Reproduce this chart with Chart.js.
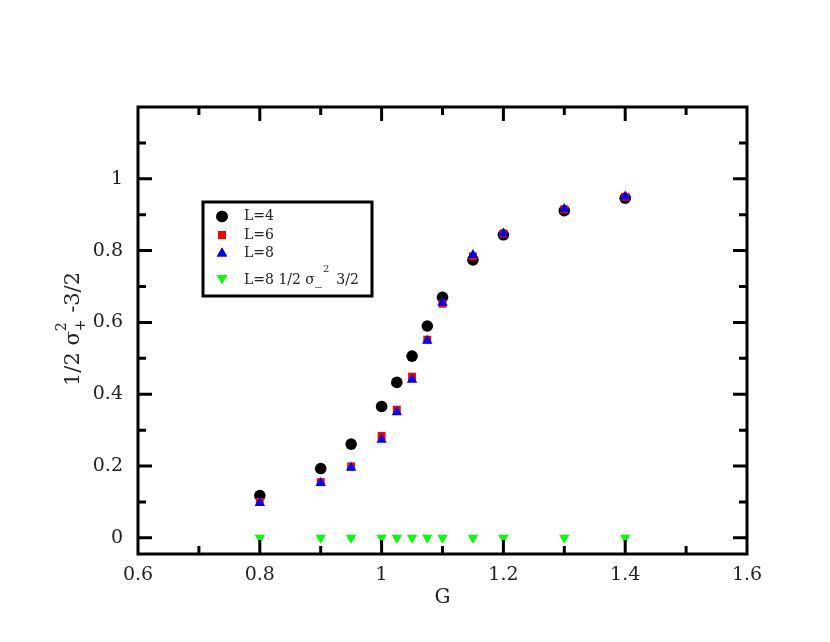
<!DOCTYPE html>
<html>
<head>
<meta charset="utf-8">
<script src="https://cdn.jsdelivr.net/npm/chart.js@4/dist/chart.umd.min.js"></script>
<style>
html,body{margin:0;padding:0;background:#fff;}
#c{display:block;}
</style>
</head>
<body>
<canvas id="c" width="830" height="642"></canvas>
<script>
// ---- data ----
const gValues = [0.8, 0.9, 0.95, 1.0, 1.025, 1.05, 1.075, 1.1, 1.15, 1.2, 1.3, 1.4];
const seriesL4 = [0.118, 0.193, 0.261, 0.366, 0.433, 0.506, 0.590, 0.670, 0.774, 0.844, 0.911, 0.946];
const seriesL6 = [0.100, 0.155, 0.199, 0.284, 0.357, 0.449, 0.552, 0.652, 0.784, 0.847, 0.915, 0.950];
const seriesL8 = [0.097, 0.153, 0.195, 0.273, 0.350, 0.440, 0.549, 0.655, 0.788, 0.848, 0.916, 0.951];
const seriesL8b = [0, 0, 0, 0, 0, 0, 0, 0, 0, 0, 0, 0];
const xTicks = [0.6, 0.8, 1.0, 1.2, 1.4, 1.6];
const xTickLabels = ['0.6', '0.8', '1', '1.2', '1.4', '1.6'];
const xMinor = [0.7, 0.9, 1.1, 1.3, 1.5];
const yTicks = [0, 0.2, 0.4, 0.6, 0.8, 1.0];
const yTickLabels = ['0', '0.2', '0.4', '0.6', '0.8', '1'];
const yMinor = [0.1, 0.3, 0.5, 0.7, 0.9, 1.1];
const legendLabels = ['L=4', 'L=6', 'L=8'];
const xTitle = 'G';

const FONT = '"DejaVu Serif", "Liberation Serif", serif';
const TXT = '#222';

function pts(ys) { return gValues.map((g, i) => ({x: g, y: ys[i]})); }

const datasets = [
  {label: 'L=4', data: pts(seriesL4), pointStyle: 'circle', pointRadius: 5.8, backgroundColor: '#000', borderColor: '#000', borderWidth: 0, order: 3},
  {label: 'L=6', data: pts(seriesL6), pointStyle: 'rect', pointRadius: 5.6, backgroundColor: '#ff0000', borderColor: '#ff0000', borderWidth: 0, order: 2},
  {label: 'L=8', data: pts(seriesL8), pointStyle: 'triangle', pointRadius: 6, backgroundColor: '#0000ff', borderColor: '#0000ff', borderWidth: 0, order: 1},
  {label: 'L=8 1/2 σ_-^2 -3/2', data: pts(seriesL8b), pointStyle: 'triangle', rotation: 180, pointRadius: 6, backgroundColor: '#00ff00', borderColor: '#00ff00', borderWidth: 0, order: 0}
];

function drawMarker(ctx, ds, x, y) {
  Chart.helpers.drawPoint(ctx, {pointStyle: ds.pointStyle, radius: ds.pointRadius, rotation: ds.rotation || 0, borderWidth: 0}, x, y);
  ctx.fill();
}

const framePlugin = {
  id: 'frame',
  afterDraw(chart) {
    const ctx = chart.ctx;
    const a = chart.chartArea;
    const xs = chart.scales.x, ys = chart.scales.y;
    ctx.save();
    ctx.strokeStyle = '#000';
    ctx.lineWidth = 3;
    ctx.lineCap = 'butt';
    ctx.strokeRect(a.left, a.top, a.right - a.left, a.bottom - a.top);
    const MAJ = 14, MIN = 8;
    ctx.beginPath();
    const xt = (v, len) => {
      const p = xs.getPixelForValue(v);
      ctx.moveTo(p, a.bottom); ctx.lineTo(p, a.bottom - len);
      ctx.moveTo(p, a.top); ctx.lineTo(p, a.top + len);
    };
    const yt = (v, len) => {
      const p = ys.getPixelForValue(v);
      ctx.moveTo(a.left, p); ctx.lineTo(a.left + len, p);
      ctx.moveTo(a.right, p); ctx.lineTo(a.right - len, p);
    };
    xTicks.slice(1, -1).forEach(v => xt(v, MAJ));
    xMinor.forEach(v => xt(v, MIN));
    yTicks.forEach(v => yt(v, MAJ));
    yMinor.forEach(v => yt(v, MIN));
    ctx.stroke();

    // axis titles
    ctx.fillStyle = TXT;
    ctx.textAlign = 'center';
    ctx.textBaseline = 'middle';
    ctx.font = '20px ' + FONT;
    ctx.fillText(xTitle, (a.left + a.right) / 2, 598);

    // y title: 1/2 σ_+^2 -3/2 (rotated)
    ctx.save();
    ctx.translate(72, 329);
    ctx.rotate(-Math.PI / 2);
    ctx.textBaseline = 'alphabetic';
    ctx.textAlign = 'left';
    const big = '21px ' + FONT, small = '14px ' + FONT;
    const p1 = '1/2 σ', p3 = ' -3/2';
    ctx.font = big; const w1 = ctx.measureText(p1).width, w3 = ctx.measureText(p3).width;
    ctx.font = small; const w2 = Math.max(ctx.measureText('+').width, ctx.measureText('2').width);
    const total = w1 + w2 + w3;
    let x0 = -total / 2;
    const base = 7;
    ctx.font = big; ctx.fillText(p1, x0, base);
    ctx.font = small;
    ctx.fillText('+', x0 + w1, base + 6);
    ctx.fillText('2', x0 + w1, base - 13);
    ctx.font = big; ctx.fillText(p3, x0 + w1 + w2, base);
    ctx.restore();

    // legend
    const L = {x: 203, y: 202, w: 169, h: 94};
    ctx.lineWidth = 3;
    ctx.strokeStyle = '#000';
    ctx.strokeRect(L.x, L.y, L.w, L.h);
    const rows = [216.5, 235, 253.5, 280];
    const mx = 222, tx = 244;
    datasets.forEach((ds, i) => {
      ctx.fillStyle = ds.backgroundColor;
      const my = i === 3 ? 278 : rows[i];
      drawMarker(ctx, ds, mx, my);
      ctx.fillStyle = TXT;
      ctx.textAlign = 'left';
      ctx.textBaseline = 'middle';
      ctx.font = '14px ' + FONT;
      if (i < 3) {
        ctx.fillText(legendLabels[i], tx, rows[i]);
      } else {
        const yb = 284;
        ctx.textBaseline = 'alphabetic';
        const s1 = 'L=8 1/2 σ_';
        ctx.fillText(s1, tx, yb);
        let xx = tx + ctx.measureText(s1).width + 1;
        ctx.font = '10px ' + FONT;
        ctx.fillText('2', xx, yb - 12);
        xx += ctx.measureText('2').width + 7;
        ctx.font = '14px ' + FONT;
        ctx.fillText('3/2', xx, yb);
      }
    });
    ctx.restore();
  }
};

new Chart(document.getElementById('c'), {
  type: 'scatter',
  data: {datasets},
  options: {
    responsive: false,
    animation: false,
    events: [],
    layout: {padding: {left: 0, top: 107, right: 83, bottom: 0}},
    plugins: {legend: {display: false}, tooltip: {enabled: false}, title: {display: false}},
    scales: {
      x: {
        type: 'linear', min: 0.6, max: 1.6,
        grid: {display: false}, border: {display: false},
        afterBuildTicks: s => { s.ticks = xTicks.map(v => ({value: v})); },
        afterFit: s => { s.height = 88; },
        ticks: {
          autoSkip: false, maxRotation: 0, padding: 2, color: TXT,
          font: {family: FONT, size: 19},
          callback: (v, i) => xTickLabels[i]
        }
      },
      y: {
        type: 'linear', min: -0.045, max: 1.2,
        grid: {display: false}, border: {display: false},
        afterBuildTicks: s => { s.ticks = yTicks.map(v => ({value: v})); },
        afterFit: s => { s.width = 138; },
        ticks: {
          autoSkip: false, padding: 7, color: TXT,
          font: {family: FONT, size: 19},
          callback: (v, i) => yTickLabels[i]
        }
      }
    }
  },
  plugins: [framePlugin]
});
</script>
</body>
</html>
